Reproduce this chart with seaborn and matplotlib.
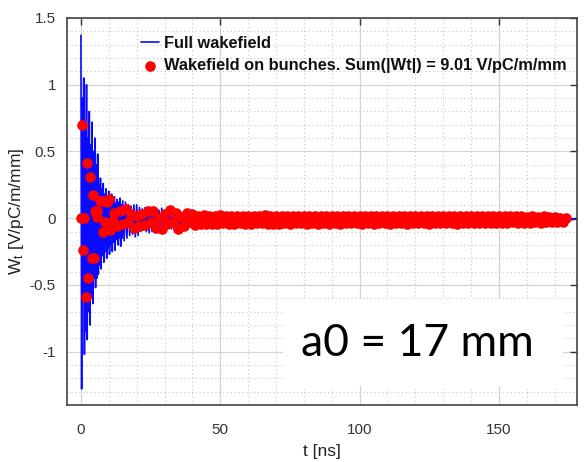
import numpy as np
import pandas as pd
import matplotlib
matplotlib.use("Agg")
import matplotlib.pyplot as plt
import seaborn as sns
from matplotlib.ticker import MultipleLocator, FormatStrFormatter
from matplotlib.patches import Rectangle

# ---------------- data ----------------
# Full wakefield: samples every 0.25 ns from 0 to 15 ns
blue_w_a = [
    1.37, -1.28, 0.90, -0.60, 1.05, -1.02, 0.70, -0.85, 1.00, -0.91,
    0.60, -0.70, 0.80, -0.80, 0.55, -0.60, 0.72, -0.64, 0.50, -0.45,
    0.60, -0.52, 0.40, -0.45, 0.48, -0.42, 0.25, -0.35, 0.30, -0.38,
    0.22, -0.28, 0.26, -0.33, 0.18, -0.25, 0.22, -0.30, 0.15, -0.22,
    0.20, -0.27, 0.14, -0.20, 0.18, -0.25, 0.12, -0.18, 0.16, -0.24,
    0.11, -0.16, 0.14, -0.20, 0.12, -0.15, 0.15, -0.21, 0.10, -0.15,
    0.13,
]
# Full wakefield: samples every 0.5 ns from 15.5 to 50 ns
blue_w_b = [
    -0.17, 0.12, -0.15, 0.10, -0.13, 0.09, -0.12, 0.10, -0.14, 0.10,
    -0.13, 0.08, -0.10, 0.07, -0.09, 0.08, -0.10, 0.075, -0.11, 0.07,
    -0.10, 0.07, -0.11, 0.07, -0.09, 0.06, -0.08, 0.075, -0.07, 0.06,
    -0.08, 0.06, -0.07, 0.05, -0.08, 0.05, -0.09, 0.05, -0.09, 0.05,
    -0.07, 0.04, -0.06, 0.05, -0.06, 0.045, -0.05, 0.04, -0.06, 0.04,
    -0.05, 0.035, -0.05, 0.04, -0.055, 0.04, -0.05, 0.03, -0.045, 0.035,
    -0.05, 0.03, -0.04, 0.035, -0.045, 0.03, -0.04, 0.03, -0.045, 0.03,
]
# Full wakefield: samples every 1 ns from 51 to 178 ns
blue_w_c = [
    0.025, -0.04, 0.02, -0.045, 0.03, -0.035, 0.02, -0.04, 0.025, -0.045,
    0.02, -0.04, 0.03, -0.035, 0.025, -0.04, 0.02, -0.045, 0.025, -0.04,
    0.02, -0.035, 0.025, -0.04, 0.02, -0.04, 0.025, -0.035, 0.02, -0.04,
    0.02, -0.04, 0.025, -0.035, 0.02, -0.04, 0.02, -0.035, 0.025, -0.04,
    0.02, -0.035, 0.02, -0.04, 0.025, -0.035, 0.02, -0.04, 0.02, -0.035,
    0.02, -0.04, 0.02, -0.035, 0.025, -0.04, 0.02, -0.035, 0.02, -0.04,
    0.02, -0.035, 0.02, -0.04, 0.015, -0.035, 0.02, -0.035, 0.02, -0.04,
    0.015, -0.035, 0.02, -0.035, 0.02, -0.04, 0.015, -0.035, 0.02, -0.035,
    0.015, -0.035, 0.02, -0.04, 0.015, -0.035, 0.015, -0.035, 0.02, -0.035,
    0.015, -0.03, 0.02, -0.035, 0.015, -0.035, 0.015, -0.03, 0.015, -0.035,
    0.015, -0.03, 0.015, -0.035, 0.015, -0.03, 0.015, -0.03, 0.01, -0.03,
    0.015, -0.03, 0.01, -0.03, 0.01, -0.03, 0.01, -0.025, 0.01, -0.025,
    0.005, -0.02, 0.0, -0.015, -0.005, -0.012, -0.008, -0.01,
]
blue_t = np.concatenate([0.0 + 0.25 * np.arange(len(blue_w_a)),
                         15.5 + 0.5 * np.arange(len(blue_w_b)),
                         51.0 + 1.0 * np.arange(len(blue_w_c))])
blue_w = np.array(blue_w_a + blue_w_b + blue_w_c)

# Wakefield on bunches: first bunches (irregular positions)
red_t_early = [0.0, 0.3, 0.6, 1.2, 1.7, 2.2, 2.6, 3.2, 3.8, 4.2, 4.6, 5.0, 5.6,
               5.8, 6.8, 7.8, 8.4, 8.8, 9.3, 10.1, 10.4, 11.6]
red_w_early = [0.0, 0.70, -0.24, 0.0, -0.59, 0.41, -0.45, 0.31, -0.30, 0.17, -0.30,
               0.05, 0.05, 0.01, 0.13, -0.10, 0.13, -0.03, 0.12, 0.14, -0.09, -0.02]
# then one bunch every ns from 12 to 174 ns
red_w_late = [
    0.04, -0.06, 0.05, -0.04, 0.07, -0.03, 0.03, -0.07, 0.02, -0.06,
    0.03, -0.05, 0.05, -0.03, 0.05, -0.07, 0.0, -0.08, 0.03, -0.04,
    0.06, -0.03, 0.04, -0.08, 0.01, -0.06, 0.04, -0.03, 0.03, -0.05,
    0.02, -0.04, 0.025, -0.04, 0.02, -0.045, 0.015, -0.04, 0.025, -0.035,
    0.015, -0.04, 0.015, -0.04, 0.02, -0.035, 0.015, -0.04, 0.015, -0.04,
    0.015, -0.035, 0.02, -0.035, 0.025, -0.04, 0.015, -0.04, 0.015, -0.04,
    0.015, -0.035, 0.015, -0.04, 0.015, -0.035, 0.015, -0.035, 0.02, -0.04,
    0.015, -0.035, 0.015, -0.04, 0.015, -0.035, 0.015, -0.04, 0.015, -0.035,
    0.015, -0.04, 0.015, -0.035, 0.02, -0.035, 0.015, -0.035, 0.015, -0.04,
    0.015, -0.035, 0.015, -0.04, 0.015, -0.035, 0.02, -0.035, 0.015, -0.04,
    0.015, -0.035, 0.02, -0.035, 0.015, -0.04, 0.015, -0.035, 0.015, -0.035,
    0.02, -0.035, 0.015, -0.04, 0.015, -0.035, 0.015, -0.035, 0.02, -0.035,
    0.015, -0.035, 0.015, -0.04, 0.015, -0.035, 0.02, -0.035, 0.015, -0.035,
    0.015, -0.035, 0.015, -0.035, 0.02, -0.035, 0.015, -0.035, 0.015, -0.035,
    0.015, -0.035, 0.015, -0.03, 0.015, -0.035, 0.015, -0.035, 0.01, -0.035,
    0.015, -0.03, 0.01, -0.035, 0.015, -0.03, 0.01, -0.03, 0.01, -0.03,
    0.005, -0.03, 0.0,
]
red_t = np.concatenate([np.array(red_t_early), 12.0 + np.arange(len(red_w_late))])
red_w = np.array(red_w_early + red_w_late)

x_ticks = [0, 50, 100, 150]
y_ticks = [-1, -0.5, 0, 0.5, 1, 1.5]
line_label = "Full wakefield"
dot_label = "Wakefield on bunches. Sum(|Wt|) = 9.01 V/pC/m/mm"
x_label = "t [ns]"
y_label = "W$_t$ [V/pC/m/mm]"
note = "a0 = 17 mm"

# ---------------- plot ----------------
sns.set_theme(style="white")
plt.rcParams['font.family'] = ['Liberation Sans', 'DejaVu Sans']
plt.rcParams['mathtext.default'] = 'regular'

W, H = 587, 462
fig = plt.figure(figsize=(W / 100, H / 100), dpi=100)
ax = fig.add_axes([67 / W, 1 - 405 / H, (577 - 67) / W, (405 - 18) / H])

blue_df = pd.DataFrame({"t": blue_t, "w": blue_w})
red_df = pd.DataFrame({"t": red_t, "w": red_w})

sns.lineplot(data=blue_df, x="t", y="w", ax=ax, color="#0a0aff", linewidth=1.2,
             estimator=None, sort=False, label=line_label, zorder=2)
sns.scatterplot(data=red_df, x="t", y="w", ax=ax, color="#ff0000", s=58,
                linewidth=0, label=dot_label, zorder=3)

ax.set_xlim(-5, 178)
ax.set_ylim(-1.4, 1.5)
ax.set_xticks(x_ticks)
ax.set_yticks(y_ticks)
ax.yaxis.set_major_formatter(FormatStrFormatter('%g'))
ax.xaxis.set_minor_locator(MultipleLocator(10))
ax.yaxis.set_minor_locator(MultipleLocator(0.1))
ax.grid(which='major', color='#d4d4d4', linewidth=0.9, linestyle='-')
ax.grid(which='minor', color='#c8c8c8', linewidth=0.8, linestyle=(0, (1, 2.5)))
ax.set_axisbelow(True)

ax.tick_params(which='major', direction='in', length=5, width=1, top=True, right=True,
               color='#333333', labelcolor='#333333', labelsize=11, pad=8)
ax.tick_params(axis='x', which='major', pad=13)
ax.tick_params(which='minor', length=0)
for s in ax.spines.values():
    s.set_color('#444444')
    s.set_linewidth(1.2)

ax.set_xlabel(x_label, fontsize=12.5, color='#222222', labelpad=5)
ax.set_ylabel(y_label, fontsize=12.5, color='#222222', labelpad=3)

leg = ax.legend(loc='upper left', bbox_to_anchor=(141 / W, 1 - 36 / H),
                bbox_transform=fig.transFigure, frameon=False,
                prop=dict(weight='bold', size=11.8), handlelength=1.1,
                handletextpad=0.3, labelspacing=0.45, borderpad=0, borderaxespad=0)
for t in leg.get_texts():
    t.set_color('#111111')

fig.add_artist(Rectangle((283 / W, 1 - 386 / H), (563 - 283) / W, (386 - 299) / H,
                         transform=fig.transFigure, facecolor='white',
                         edgecolor='none', zorder=5))
fig.text(417 / W, 1 - 343 / H, note, fontfamily='Lato', fontsize=32,
         ha='center', va='center', color='black', zorder=6)

fig.savefig("out.png", dpi=100)
